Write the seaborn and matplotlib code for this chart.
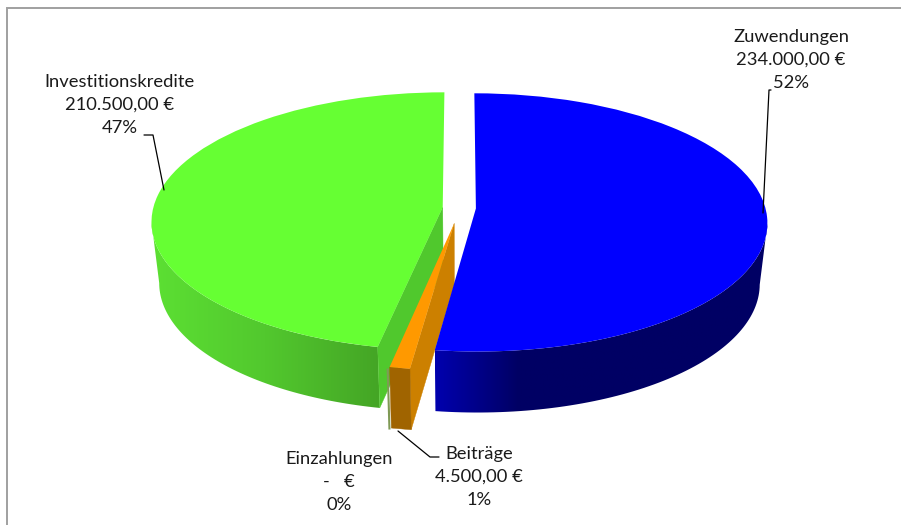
import matplotlib
matplotlib.use("Agg")
import matplotlib.pyplot as plt
import matplotlib.transforms as mtransforms
from matplotlib.patches import Polygon
import numpy as np
import seaborn as sns

# clockwise from 12 o'clock
categories = ["Zuwendungen", "Beiträge", "Einzahlungen", "Investitionskredite"]
amounts = [234000, 4500, 0, 210500]
amount_labels = ["234.000,00 €", "4.500,00 €", "-   €", "210.500,00 €"]
percent_labels = ["52%", "1%", "0%", "47%"]
explode = [0.055, 0.12, 0.13, 0.06]
top_colors = ["#0000FF", "#FF9900", "#7F9A55", "#66FF33"]

# fake 3D view, pixels of the 901x525 picture
CX, CY = 460, 208
RX, RY = 289.5, 127.5
TILT = 0.108
DROP = 61
SHRINK = 0.975


def project(pts, bottom=False):
    pts = np.asarray(pts, dtype=float)
    w = 1 + TILT * pts[:, 1]
    x = RX * pts[:, 0] / w
    y = -RY * pts[:, 1] / w
    if bottom:
        x = x * SHRINK
        y = y + DROP
    return np.column_stack([CX + x, CY + y])


class TiltTransform(mtransforms.Transform):
    input_dims = 2
    output_dims = 2
    has_inverse = False

    def transform_non_affine(self, values):
        return project(values)


def arc_points(wedge, n=160):
    t = np.radians(np.linspace(wedge.theta1, wedge.theta2, n))
    return np.column_stack([wedge.center[0] + np.cos(t), wedge.center[1] + np.sin(t)])


def gradient_wall(ax, pts, colors, zorder):
    cmap = sns.blend_palette(colors, as_cmap=True)
    x0, x1 = pts[:, 0].min(), pts[:, 0].max()
    y0, y1 = pts[:, 1].min(), pts[:, 1].max()
    grad = np.linspace(0, 1, 256).reshape(1, -1)
    im = ax.imshow(grad, extent=[x0, x1, y1, y0], cmap=cmap, aspect="auto", zorder=zorder)
    clip = Polygon(pts, closed=True, transform=ax.transData, fc="none", ec="none")
    ax.add_patch(clip)
    im.set_clip_path(clip)


def flat_face(ax, pts, color, zorder):
    ax.add_patch(Polygon(pts, closed=True, fc=color, ec=color, lw=0.3, zorder=zorder))


sns.set_theme(style="white")
plt.rcParams["font.family"] = ["Lato", "DejaVu Sans"]

fig = plt.figure(figsize=(9.01, 5.25), dpi=100)
ax = fig.add_axes([0, 0, 1, 1])

wedges, _ = ax.pie(amounts, explode=explode, colors=top_colors, startangle=90,
                   counterclock=False, radius=1, wedgeprops={"linewidth": 0})
tilt = TiltTransform() + ax.transData
for w in wedges:
    w.set_transform(tilt)
    w.set_zorder(5)
wedges[2].set_visible(False)

blue, orange, zero, green = wedges

# outer walls, only the part of the rim that faces the viewer
arc = arc_points(green)
arc = arc[np.argmin(project(arc)[:, 0]):]
gradient_wall(ax, np.vstack([project(arc), project(arc, True)[::-1]]),
              ["#5CE033", "#52C82E", "#44A525"], 2)
arc = arc_points(blue)
arc = arc[:np.argmax(project(arc)[:, 0]) + 1]
gradient_wall(ax, np.vstack([project(arc), project(arc, True)[::-1]]),
              ["#0000AE", "#000064", "#000064", "#000064", "#000064"], 2)

# green cut face
edge = arc_points(green, 2)[-1]
spoke = np.array([green.center, edge])
flat_face(ax, np.vstack([project(spoke), project(spoke, True)[::-1]]), "#50C82D", 3)

# zero slice is only a sliver next to the orange one
edge = arc_points(zero, 2)[:1]
ax.plot(*np.vstack([project(edge), project(edge, True)]).T, color=top_colors[2], lw=1.5,
        solid_capstyle="butt", zorder=3.5)

# orange faces
edge = arc_points(orange, 2)
spoke = np.array([orange.center, edge[1]])
flat_face(ax, np.vstack([project(spoke), project(spoke, True)[::-1]]), "#CC8000", 4)
flat_face(ax, np.vstack([project(edge), project(edge, True)[::-1]]), "#A06400", 4.5)

ax.set_aspect("auto")
ax.set_xlim(0, 901)
ax.set_ylim(525, 0)
ax.set_frame_on(False)
ax.set_xticks([])
ax.set_yticks([])

# chart area border, only top and left survive the crop
ax.plot([6.5, 6.5, 901], [525, 8, 8], color="#A0A0A0", lw=1.4, zorder=1, solid_joinstyle="miter")

# leader lines
leaders = [([763, 769, 771], [213, 90, 90]),
           ([164, 153, 144], [190, 135, 135]),
           ([398, 430, 439], [431, 457, 457])]
for xs, ys in leaders:
    ax.plot(xs, ys, color="black", lw=0.9, zorder=6)

label_pos = [(791, 60), (479, 477), (339, 482), (120, 105)]
for name, amount, pct, (x, y) in zip(categories, amount_labels, percent_labels, label_pos):
    ax.text(x, y, f"{name}\n{amount}\n{pct}", ha="center", va="center", fontsize=13.2,
            color="#1a1a1a", linespacing=1.57, zorder=7)

fig.savefig("out.png", dpi=100)
